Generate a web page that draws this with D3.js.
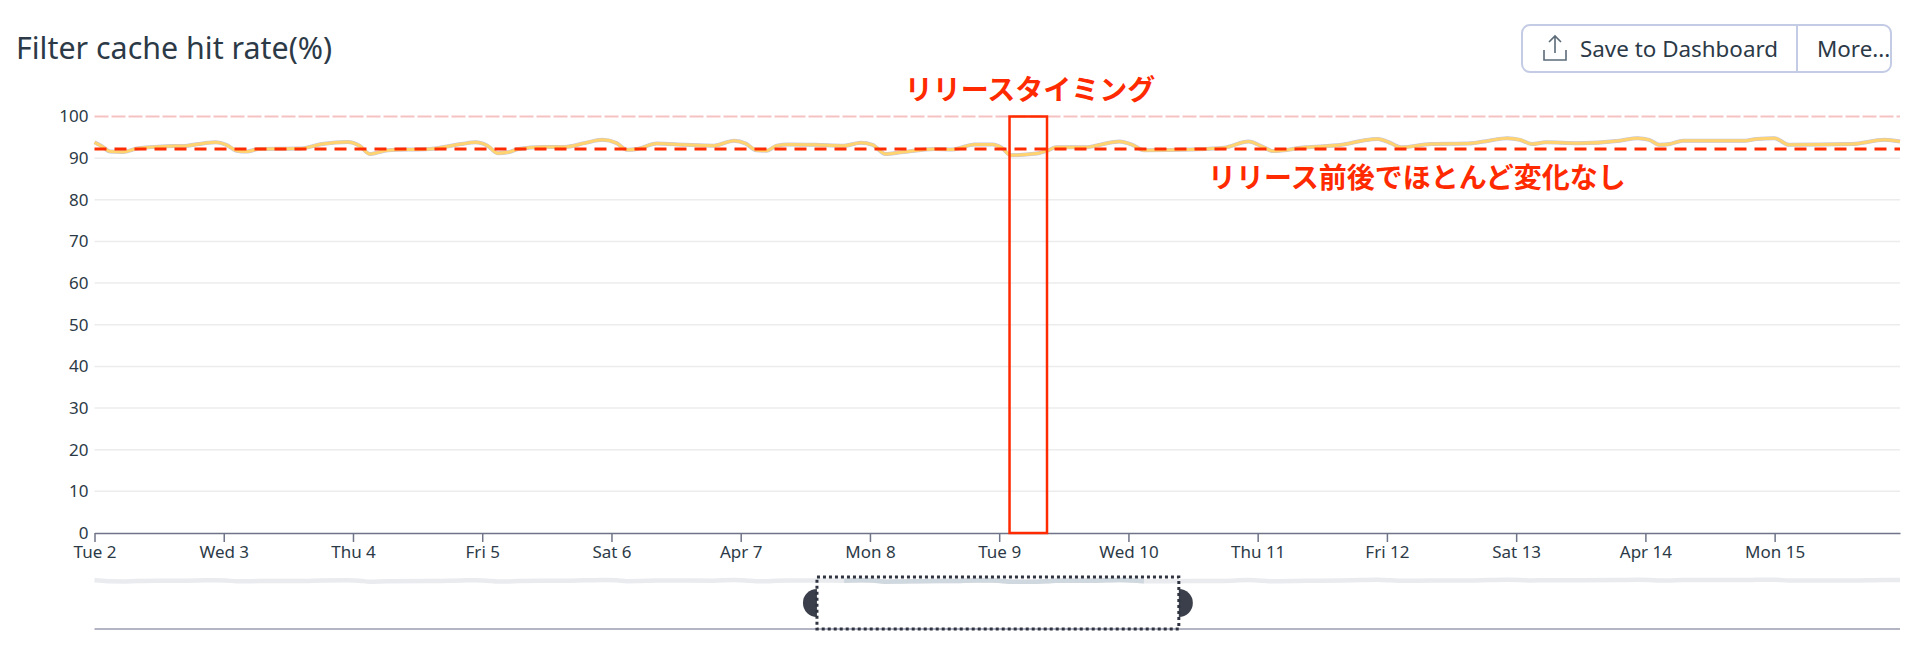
<!DOCTYPE html>
<html>
<head>
<meta charset="utf-8">
<script src="https://cdn.jsdelivr.net/npm/d3@7"></script>
<style>
  html, body { margin: 0; padding: 0; background: #fff; }
  svg { display: block; }
  text { font-family: "Noto Sans", sans-serif; fill: #2c3a47; }
</style>
</head>
<body>
<div id="chart"></div>
<script>
const tickLabels = ["Tue 2", "Wed 3", "Thu 4", "Fri 5", "Sat 6", "Apr 7", "Mon 8", "Tue 9", "Wed 10", "Thu 11", "Fri 12", "Sat 13", "Apr 14", "Mon 15"];
const yTicks = [0, 10, 20, 30, 40, 50, 60, 70, 80, 90, 100];

// days since Apr 2 00:00
const days = [0, .06, .12, .22, .33, .53, .72, .85, .94, 1.02, 1.10, 1.18, 1.27, 1.59, 1.76, 1.96, 2.05, 2.13, 2.27, 2.59, 2.84, 2.95, 3.04, 3.12, 3.2, 3.28, 3.47, 3.64, 3.79, 3.93, 4.04, 4.12, 4.2,
    4.35, 4.57, 4.79, 4.95, 5.04, 5.12, 5.2, 5.28, 5.37, 5.58, 5.8, 5.93, 6.02, 6.12, 6.24, 6.5, 6.64, 6.81, 6.95, 7.02, 7.09, 7.29, 7.38, 7.44, 7.67, 7.79, 7.93, 8.03, 8.12, 8.49, 8.74, 8.93, 9.04, 9.12,
    9.37, 9.65, 9.81, 9.93, 10.03, 10.11, 10.34, 10.63, 10.79, 10.93, 11.03, 11.12, 11.23, 11.48, 11.8, 11.94, 12.03, 12.11, 12.19, 12.29, 12.49, 12.77, 12.86, 13.0, 13.11, 13.6, 13.85, 13.97];
const hitRate = [93.8, 92.8, 91.6, 91.5, 92.3, 92.8, 93, 93.6, 93.8, 93.2, 91.8, 91.6, 92.2, 92.3, 93.4, 93.9, 93, 91, 91.9, 92.2, 93.4, 93.8, 93, 91.2, 91.4, 92.2, 92.7, 92.7, 93.6, 94.4, 93.6, 92, 92.2,
    93.5, 93.2, 93, 94.2, 93.5, 91.9, 91.8, 93, 93.3, 93.2, 93, 93.7, 93.2, 91, 91.4, 92.2, 92.1, 93.3, 93.3, 92.5, 90.7, 91.1, 91.9, 92.6, 92.6, 93.3, 94, 93.2, 91.9, 92.1, 92.5, 94, 92.7, 91.7,
    92.6, 93.2, 94.2, 94.6, 93.6, 92.6, 93.4, 93.5, 94.2, 94.8, 94.4, 93.4, 93.8, 93.6, 94.2, 94.8, 94.4, 93.2, 93.4, 94.2, 94.2, 94.2, 94.6, 94.8, 93.2, 93.4, 94.4, 94];

const average = 92.2;
const limit = 100;
const releaseWindow = [7.08, 7.37];
const brushWindow = [5.59, 8.39];

const width = 1920, height = 659;
const margins = {top: 116.5, right: 20, bottom: 126, left: 94.5};
const red = "#ff2a00";

const svg = d3.select("#chart").append("svg").attr("width", width).attr("height", height);

const x = d3.scaleLinear().domain([0, 13.97]).range([margins.left, width - margins.right]);
const y = d3.scaleLinear().domain([0, 100]).range([height - margins.bottom, margins.top]);
const yMini = d3.scaleLinear().domain([0, 100]).range([629, 577]);

// Title and buttons
svg.append("text").attr("x", 16).attr("y", 59).style("font-size", "30.4px").text("Filter cache hit rate(%)");

const buttons = svg.append("g");
buttons.append("rect").attr("x", 1522).attr("y", 25).attr("width", 369).attr("height", 47).attr("rx", 8)
    .attr("fill", "#fff").attr("stroke", "#c3cbe5").attr("stroke-width", 2);
buttons.append("line").attr("x1", 1797).attr("x2", 1797).attr("y1", 25).attr("y2", 72)
    .attr("stroke", "#c3cbe5").attr("stroke-width", 2);
buttons.append("path").attr("d", "M1544 50v10h22v-10M1555 53v-17M1549 42l6-6l6 6")
    .attr("fill", "none").attr("stroke", "#5b6b78").attr("stroke-width", 1.6);
buttons.append("text").attr("x", 1580).attr("y", 57).style("font-size", "22.4px").text("Save to Dashboard");
buttons.append("text").attr("x", 1817).attr("y", 57).style("font-size", "22.4px").text("More...");

// Grid
svg.append("g").selectAll("line").data(yTicks.filter(d => d > 0 && d < 100)).enter().append("line")
    .attr("x1", x.range()[0]).attr("x2", x.range()[1])
    .attr("y1", d => y(d)).attr("y2", d => y(d))
    .attr("stroke", "#ececec").attr("stroke-width", 1.5);

svg.append("line").attr("x1", x.range()[0]).attr("x2", x.range()[1])
    .attr("y1", y(limit)).attr("y2", y(limit))
    .attr("stroke", "#f5c2c2").attr("stroke-width", 2).attr("stroke-dasharray", "14 3");

// Axes
const yAxis = svg.append("g").attr("transform", `translate(${margins.left},0)`)
    .call(d3.axisLeft(y).tickValues(yTicks).tickSize(0).tickPadding(6));
yAxis.select(".domain").remove();
yAxis.selectAll("text").style("font-size", "17px").style("font-family", '"Noto Sans", sans-serif').attr("fill", "#2c3a47");

const xAxis = svg.append("g").attr("transform", `translate(0,${y(0)})`)
    .call(d3.axisBottom(x).tickValues(tickLabels.map((d, i) => i)).tickFormat((d, i) => tickLabels[i]).tickSize(9).tickPadding(4).tickSizeOuter(0));
xAxis.select(".domain").attr("stroke", "#6f7488").attr("stroke-width", 1.5);
xAxis.selectAll("line").attr("stroke", "#6f7488").attr("stroke-width", 1.5);
xAxis.selectAll("text").style("font-size", "17px").style("font-family", '"Noto Sans", sans-serif').attr("fill", "#2c3a47");

// Series
const points = days.map((d, i) => [d, hitRate[i]]);
const line = d3.line().x(d => x(d[0])).y(d => y(d[1])).curve(d3.curveMonotoneX);

svg.append("path").attr("d", line(points)).attr("fill", "none").attr("stroke", "#c4c4e0").attr("stroke-width", 4);
svg.append("path").attr("d", line(points)).attr("fill", "none").attr("stroke", "#ffd470").attr("stroke-width", 3);

svg.append("line").attr("x1", x.range()[0]).attr("x2", x.range()[1])
    .attr("y1", y(average)).attr("y2", y(average))
    .attr("stroke", red).attr("stroke-width", 3).attr("stroke-dasharray", "12 8");

// Release annotation
svg.append("rect").attr("x", x(releaseWindow[0])).attr("y", y(100))
    .attr("width", x(releaseWindow[1]) - x(releaseWindow[0])).attr("height", y(0) - y(100))
    .attr("fill", "none").attr("stroke", red).attr("stroke-width", 2.5);

const noteStyle = sel => sel.attr("text-anchor", "middle")
    .style("font-family", '"Noto Sans CJK JP", sans-serif')
    .style("font-size", "28px").style("font-weight", "700").style("fill", red);
svg.append("text").attr("x", 1030).attr("y", 100).call(noteStyle).text("リリースタイミング");
svg.append("text").attr("x", 1417).attr("y", 188).call(noteStyle).text("リリース前後でほとんど変化なし");

// Mini overview
const miniLine = d3.line().x(d => x(d[0])).y(d => yMini(d[1])).curve(d3.curveMonotoneX);
svg.append("path").attr("d", miniLine(points)).attr("fill", "none").attr("stroke", "#e9ebee").attr("stroke-width", 4.5);
svg.append("path").attr("d", miniLine(points.filter(d => d[0] >= brushWindow[0] && d[0] <= brushWindow[1])))
    .attr("fill", "none").attr("stroke", "#cfd8de").attr("stroke-width", 4.5);
svg.append("line").attr("x1", x.range()[0]).attr("x2", x.range()[1]).attr("y1", yMini(0)).attr("y2", yMini(0))
    .attr("stroke", "#9a9db0").attr("stroke-width", 1.5);

const bx0 = x(brushWindow[0]), bx1 = x(brushWindow[1]);
const arc = d3.arc().innerRadius(0).outerRadius(14);
svg.append("path").attr("transform", `translate(${bx0},603)`)
    .attr("d", arc({startAngle: Math.PI, endAngle: 2 * Math.PI})).attr("fill", "#3a3f4b");
svg.append("path").attr("transform", `translate(${bx1},603)`)
    .attr("d", arc({startAngle: 0, endAngle: Math.PI})).attr("fill", "#3a3f4b");
svg.append("rect").attr("x", bx0).attr("y", 577).attr("width", bx1 - bx0).attr("height", 52)
    .attr("fill", "none").attr("stroke", "#2f3440").attr("stroke-width", 3).attr("stroke-dasharray", "3 3");
</script>
</body>
</html>
